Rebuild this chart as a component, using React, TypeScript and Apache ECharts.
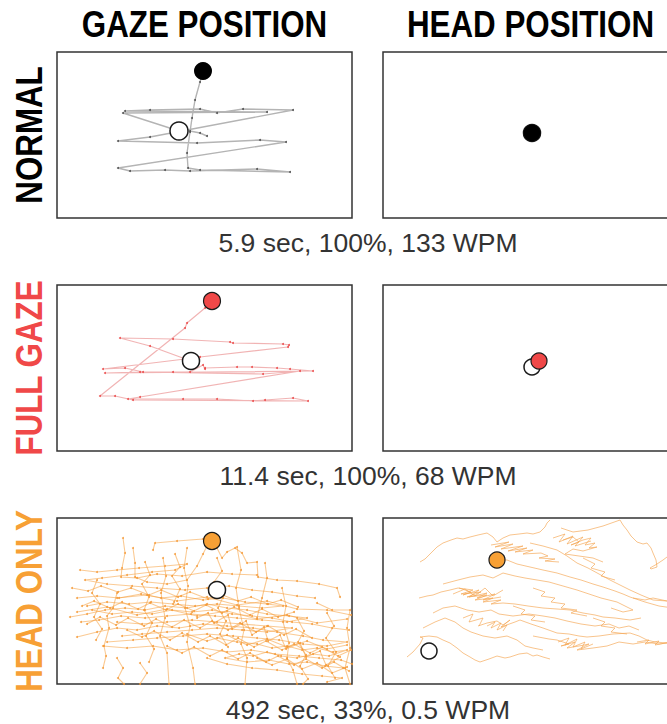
import React, { useEffect, useRef } from "react";
import * as echarts from "echarts";

// ---------- labels ----------
const columnTitles = ["GAZE POSITION", "HEAD POSITION"];
const conditions = ["NORMAL", "FULL GAZE", "HEAD ONLY"];
const conditionColors = ["#000000", "#f04848", "#f7a035"];
const captions = ["5.9 sec, 100%, 133 WPM", "11.4 sec, 100%, 68 WPM", "492 sec, 33%, 0.5 WPM"];

// ---------- screen extent (display units) ----------
const screenW = 295;
const screenH = 166;

// ---------- NORMAL ----------
const normalGazeTrace = [
  [122, 79], [66, 61], [210, 60], [68, 59], [93, 58], [143, 57], [160, 61], [186, 57], [236, 58],
  [130, 78], [93, 85], [61, 89], [140, 91], [203, 88], [229, 90], [61, 116], [73, 119], [108, 118],
  [133, 119], [200, 117], [233, 120], [143, 118], [131, 116], [130, 101], [133, 80], [135, 66],
  [138, 48], [143, 30], [146, 19],
];
const normalGazeTail = [[133, 79], [143, 81], [150, 84]];
const normalGazeStart = [122, 79];
const normalGazeEnd = [146, 19];
const normalHeadStart = [149, 81];
const normalHeadEnd = [149, 81];

// ---------- FULL GAZE ----------
const fullGazeTrace = [
  [134, 76], [93, 61], [63, 53], [116, 54], [173, 57], [176, 58], [226, 59], [232, 60], [231, 62],
  [143, 72], [128, 74], [46, 84], [68, 83], [86, 87], [116, 87], [133, 87], [146, 80], [148, 84],
  [148, 83], [180, 82], [195, 82], [220, 83], [233, 84], [256, 86], [48, 88], [83, 87], [206, 89],
  [243, 86], [83, 112], [71, 114], [126, 114], [160, 114], [196, 116], [208, 115], [236, 113],
  [251, 116], [76, 115], [58, 111], [43, 111], [128, 43], [130, 38], [148, 23], [155, 16],
];
const fullGazeStart = [134, 76];
const fullGazeEnd = [155, 16];
const fullHeadStart = [149, 82];
const fullHeadEnd = [156, 76];

// ---------- HEAD ONLY ----------
const headOnlyGazeTraces = [
  [[66, 20], [68, 35], [65, 50], [64, 59], [80, 60], [100, 56], [125, 58], [150, 54], [175, 56], [200, 57]],
  [[76, 30], [78, 45], [78, 59], [90, 64], [110, 66], [130, 62], [140, 48], [146, 36], [150, 28], [155, 23]],
  [[96, 32], [98, 25], [120, 23], [146, 21], [155, 23], [160, 30], [165, 40], [170, 34], [178, 30], [185, 35],
   [190, 45], [200, 44], [201, 59], [220, 62], [240, 63], [262, 66], [280, 70], [283, 79]],
  [[23, 52], [40, 54], [60, 52], [82, 50], [108, 48], [130, 46], [118, 52], [95, 54], [70, 57], [45, 60],
   [28, 62], [50, 66], [75, 68], [100, 70], [128, 72], [150, 70], [172, 68], [195, 72], [215, 74], [240, 78], [258, 80]],
  [[13, 99], [30, 96], [48, 92], [68, 90], [88, 92], [108, 88], [130, 90], [150, 86], [170, 90], [190, 92],
   [210, 96], [232, 98], [250, 100], [230, 104], [205, 102], [180, 100], [158, 98], [134, 96], [110, 98],
   [88, 100], [64, 98], [42, 102], [24, 104]],
  [[20, 80], [40, 78], [62, 80], [84, 76], [104, 80], [124, 78], [146, 82], [166, 80], [188, 84], [210, 86],
   [226, 88], [205, 90], [182, 88], [160, 86], [138, 88], [116, 86], [94, 84], [72, 86], [50, 84], [30, 88]],
  [[20, 119], [40, 114], [60, 110], [80, 112], [100, 108], [122, 110], [146, 106], [170, 108], [196, 110],
   [220, 114], [246, 118], [266, 122], [290, 124], [270, 128], [246, 126], [222, 122], [200, 120], [176, 118],
   [150, 116], [126, 118], [100, 120], [76, 122], [50, 124]],
  [[46, 128], [70, 130], [96, 128], [120, 132], [146, 130], [170, 134], [194, 132], [218, 136], [242, 138],
   [262, 140], [284, 142], [295, 146]],
  [[160, 120], [180, 124], [200, 126], [215, 130], [230, 128], [245, 132], [260, 130], [276, 134], [290, 132],
   [272, 138], [256, 136], [240, 140], [224, 138], [210, 134], [196, 138], [182, 136], [168, 140], [190, 144],
   [212, 142], [232, 146], [250, 144], [268, 148], [286, 150]],
  [[106, 40], [109, 58], [104, 75], [108, 100], [103, 118], [110, 135], [112, 166]],
  [[130, 30], [127, 50], [131, 68], [128, 90], [133, 108], [130, 124], [136, 150], [138, 166]],
  [[180, 29], [184, 52], [179, 70], [182, 90], [187, 112], [184, 126], [190, 140], [188, 166]],
  [[225, 70], [229, 88], [226, 104], [232, 125], [230, 140], [236, 152], [240, 166]],
  [[46, 150], [49, 138], [47, 128], [52, 110], [50, 98], [56, 90], [60, 75]],
  [[260, 85], [275, 92], [293, 92], [290, 110], [293, 130], [288, 150], [293, 166]],
  [[35, 92], [55, 96], [75, 94], [95, 96], [115, 92], [135, 94], [155, 92], [175, 96], [195, 98], [215, 100],
   [235, 104], [255, 106], [275, 110], [292, 112]],
  [[60, 104], [85, 106], [110, 104], [135, 102], [160, 104], [185, 106], [210, 108], [235, 110], [210, 114],
   [185, 112], [160, 110], [135, 112], [110, 114], [85, 116], [65, 118]],
  [[150, 140], [170, 146], [195, 150], [220, 152], [245, 156], [265, 158], [285, 160], [270, 164]],
  [[83, 145], [90, 155], [83, 166]],
  [[200, 100], [205, 80], [210, 60], [208, 45]],
  [[15, 70], [31, 73], [44, 68], [61, 74], [74, 70], [92, 77], [104, 72], [121, 79], [133, 74], [151, 81],
   [163, 76], [181, 83], [194, 79], [211, 86], [224, 82], [241, 89]],
  [[25, 88], [37, 83], [53, 90], [65, 84], [81, 91], [93, 85], [109, 92], [121, 86], [137, 93], [149, 87],
   [165, 95], [177, 89], [193, 97], [205, 91], [221, 99], [237, 94]],
  [[30, 106], [43, 99], [59, 107], [71, 100], [87, 108], [99, 101], [115, 109], [127, 102], [143, 110],
   [155, 103], [171, 112], [183, 105], [199, 114], [211, 108], [227, 117], [239, 111], [255, 120]],
  [[70, 112], [85, 119], [97, 113], [113, 122], [125, 115], [141, 124], [153, 118], [169, 127], [181, 120],
   [197, 129], [209, 123], [225, 132], [237, 126], [253, 135], [265, 129], [281, 138], [294, 132]],
  [[110, 128], [125, 135], [137, 129], [153, 138], [165, 132], [181, 141], [193, 135], [209, 144], [221, 138],
   [237, 147], [249, 141], [265, 150], [277, 144], [292, 153]],
  [[140, 100], [151, 95], [157, 105], [171, 97], [175, 111], [189, 103], [195, 117], [207, 109], [211, 123],
   [223, 117], [229, 131], [243, 125], [249, 139], [263, 133], [269, 147], [283, 139]],
  [[88, 44], [93, 57], [85, 66], [92, 79], [87, 92], [95, 105], [89, 118], [97, 131], [92, 144]],
  [[160, 40], [165, 53], [157, 64], [167, 77], [161, 90], [169, 103], [163, 116], [171, 129]],
  [[40, 62], [35, 75], [43, 86], [37, 99], [45, 111], [39, 122]],
  [[240, 100], [247, 113], [241, 124], [249, 137], [243, 148], [251, 161], [246, 166]],
  [[118, 36], [123, 49], [115, 58], [123, 71], [117, 84]],
  [[20, 94], [50, 89], [80, 97], [110, 91], [140, 98], [170, 93], [200, 101], [230, 97], [260, 105], [290, 101]],
  [[60, 80], [90, 77], [120, 83], [150, 79], [180, 87], [210, 83], [240, 91], [270, 92], [294, 97]],
  [[130, 116], [150, 123], [170, 117], [190, 127], [210, 121], [230, 129], [250, 123], [270, 131], [290, 127]],
  [[200, 140], [215, 147], [230, 141], [245, 151], [260, 145], [275, 155], [290, 149]],
  [[60, 140], [66, 150], [61, 160], [67, 166]],
  [[270, 95], [277, 108], [269, 120], [279, 134], [271, 148], [278, 160]],
];
const headOnlyGazeStart = [160, 72];
const headOnlyGazeEnd = [155, 23];

const headOnlyHeadTraces = [
  [[37, 44], [42, 41], [50, 33], [54, 29], [60, 25], [68, 22], [74, 20], [80, 21], [87, 19], [95, 17], [104, 15],
   [110, 19], [114, 24], [120, 20], [127, 17], [136, 16], [144, 15], [150, 16], [157, 14], [162, 9], [164, 5], [167, 2]],
  [[178, 10], [190, 14], [205, 12], [220, 8], [237, 2], [240, 7], [244, 12], [248, 18], [254, 24], [260, 26],
   [264, 25], [268, 30], [270, 35], [273, 42], [274, 49], [268, 51], [267, 50], [274, 46], [280, 42], [284, 39], [290, 36]],
  [[147, 25], [160, 28], [174, 32], [184, 38], [194, 45], [205, 50], [216, 56], [227, 62], [237, 67], [247, 72],
   [258, 77], [270, 82], [284, 83], [295, 84]],
  [[108, 27], [126, 24], [112, 29], [130, 26], [118, 31], [140, 28], [125, 33], [144, 30], [132, 34], [150, 32],
   [140, 36], [158, 35], [165, 38], [156, 40], [172, 41], [162, 43], [176, 44]],
  [[180, 22], [190, 19], [196, 24], [188, 27], [200, 22], [208, 20], [202, 27], [212, 25], [206, 30], [214, 29],
   [200, 33], [190, 31], [182, 36], [196, 38], [210, 40], [220, 44]],
  [[36, 80], [44, 78], [50, 77], [58, 74], [67, 72], [75, 70], [90, 72], [78, 76], [98, 74], [84, 79], [104, 77],
   [92, 82], [110, 80], [100, 84], [118, 82], [108, 86], [120, 85], [132, 86], [145, 88], [160, 90], [174, 91],
   [187, 92], [200, 95], [212, 97], [220, 99], [232, 100], [247, 102], [258, 100]],
  [[114, 42], [124, 42], [134, 46], [147, 49], [160, 52], [174, 55], [187, 59], [198, 62], [210, 66], [220, 69],
   [232, 73], [240, 76], [247, 79], [262, 84], [276, 88], [290, 90]],
  [[60, 66], [75, 62], [87, 59], [100, 57], [110, 60], [120, 55], [132, 58], [142, 60], [154, 62], [166, 64],
   [180, 68], [194, 72], [206, 76], [218, 80], [226, 82], [234, 84], [242, 88], [250, 92], [240, 94], [228, 90]],
  [[95, 108], [104, 105], [114, 103], [120, 107], [127, 102], [118, 109], [132, 104], [137, 102], [148, 106],
   [160, 110], [174, 115], [186, 116], [196, 118], [204, 119], [216, 118], [230, 116], [247, 115], [256, 118],
   [264, 122], [272, 124], [284, 125], [295, 126]],
  [[150, 118], [166, 121], [174, 122], [186, 126], [178, 128], [192, 124], [184, 130], [196, 128], [206, 126],
   [194, 132], [210, 130], [224, 128], [236, 124], [250, 126], [262, 124], [276, 126], [290, 124]],
  [[24, 139], [30, 134], [37, 126], [40, 120], [37, 119], [46, 118], [54, 119], [60, 122], [67, 125], [74, 130],
   [80, 135], [87, 139], [92, 142], [97, 144], [106, 141], [114, 138], [122, 140], [127, 139], [136, 136],
   [144, 135], [150, 138], [154, 137], [160, 139], [167, 141]],
  [[50, 95], [60, 90], [72, 88], [84, 92], [96, 94], [108, 92], [116, 96], [130, 98], [146, 96], [160, 98],
   [172, 100], [184, 103], [198, 106], [212, 108], [226, 106], [236, 110], [246, 108], [256, 112]],
  [[40, 110], [52, 104], [62, 100], [72, 104], [80, 110], [88, 114], [100, 118], [112, 120], [124, 118],
   [134, 122], [142, 128], [150, 130], [160, 132]],
  [[250, 80], [262, 82], [270, 80], [284, 83], [295, 86]],
  [[76, 70], [88, 74], [80, 77], [96, 72], [86, 79], [104, 75], [94, 80], [112, 76], [100, 82], [118, 79]],
  [[70, 76], [82, 71], [92, 78], [102, 70], [110, 78], [120, 72]],
  [[170, 20], [182, 16], [176, 24], [190, 18], [184, 26], [200, 19], [192, 28], [208, 23]],
  [[104, 108], [112, 104], [108, 110], [118, 105], [114, 112], [124, 107], [120, 113]],
  [[175, 124], [186, 120], [182, 127], [194, 121], [190, 129], [202, 124], [198, 131], [210, 126]],
  [[254, 124], [266, 122], [262, 126], [276, 123], [272, 127], [288, 124], [295, 125]],
  [[150, 70], [162, 74], [158, 78], [172, 80], [168, 84], [182, 86], [178, 90], [194, 92], [188, 95], [204, 98]],
  [[210, 100], [222, 104], [218, 108], [232, 110], [228, 114], [244, 116]],
  [[130, 88], [142, 92], [138, 96], [152, 98], [148, 102], [162, 104]],
  [[200, 40], [212, 46], [208, 50], [222, 54], [218, 58], [232, 62]],
  [[80, 100], [90, 96], [86, 104], [100, 100], [96, 108]],
];
const headOnlyHeadStart = [46, 133];
const headOnlyHeadEnd = [114, 42];

// ---------- layout ----------
const colLeft = [57, 383];
const rowTop = [52, 285, 518];
const panelW = 295;
const panelH = 166;
const captionY = [243, 476, 710];
const FONT = '"Liberation Sans", Arial, Helvetica, sans-serif';

type Pt = number[];

function buildOption() {
  const grids: any[] = [];
  const xAxes: any[] = [];
  const yAxes: any[] = [];
  for (let r = 0; r < 3; r++) {
    for (let c = 0; c < 2; c++) {
      const i = r * 2 + c;
      grids.push({
        left: colLeft[c], top: rowTop[r], width: panelW, height: panelH,
        show: true, borderColor: "#333", borderWidth: 1.5, backgroundColor: "#fff",
      });
      xAxes.push({ gridIndex: i, type: "value", min: 0, max: screenW, show: false });
      yAxes.push({ gridIndex: i, type: "value", min: 0, max: screenH, inverse: true, show: false });
    }
  }

  const series: any[] = [];
  const addTraces = (idx: number, traces: Pt[][], color: string, width: number, dot: number, dotColor: string) => {
    traces.forEach((t) => {
      series.push({
        type: "line", xAxisIndex: idx, yAxisIndex: idx, data: t,
        symbol: "circle", symbolSize: dot, showSymbol: dot > 0,
        lineStyle: { color, width }, itemStyle: { color: dotColor, opacity: 1 },
        silent: true, z: 2,
      });
    });
  };
  const addMarkers = (idx: number, start: Pt, end: Pt, color: string, size: number) => {
    series.push({
      type: "scatter", xAxisIndex: idx, yAxisIndex: idx, data: [start], symbolSize: size,
      itemStyle: { color: "#ffffff", borderColor: "#1a1a1a", borderWidth: 1.5, opacity: 1 }, silent: true, z: 5,
    });
    series.push({
      type: "scatter", xAxisIndex: idx, yAxisIndex: idx, data: [end], symbolSize: size,
      itemStyle: { color, borderColor: "#1a1a1a", borderWidth: color === "#000000" ? 0 : 1.2, opacity: 1 },
      silent: true, z: 6,
    });
  };

  // NORMAL
  addTraces(0, [normalGazeTrace, normalGazeTail], "#b4b4b4", 1.4, 2, "#555");
  addMarkers(0, normalGazeStart, normalGazeEnd, conditionColors[0], 18);
  addMarkers(1, normalHeadStart, normalHeadEnd, conditionColors[0], 17);
  // FULL GAZE
  addTraces(2, [fullGazeTrace], "rgba(232,130,130,0.6)", 1.2, 2, "rgba(235,70,70,0.9)");
  addMarkers(2, fullGazeStart, fullGazeEnd, conditionColors[1], 17);
  addMarkers(3, fullHeadStart, fullHeadEnd, conditionColors[1], 16);
  // HEAD ONLY
  addTraces(4, headOnlyGazeTraces, "rgba(245,158,60,0.55)", 1.1, 2, "rgba(245,150,50,0.85)");
  addMarkers(4, headOnlyGazeStart, headOnlyGazeEnd, conditionColors[2], 17);
  addTraces(5, headOnlyHeadTraces, "rgba(244,165,80,0.65)", 1, 0, "rgba(245,150,50,0.8)");
  addMarkers(5, headOnlyHeadStart, headOnlyHeadEnd, conditionColors[2], 16);

  const graphic: any[] = [];
  columnTitles.forEach((t, c) => {
    graphic.push({
      type: "text", x: colLeft[c] + panelW / 2, y: 24, scaleX: 0.87, silent: true,
      style: { text: t, fill: "#000", fontSize: 36, fontWeight: "bold", fontFamily: FONT,
        textAlign: "center", textVerticalAlign: "middle", align: "center", verticalAlign: "middle" },
    });
  });
  conditions.forEach((t, r) => {
    graphic.push({
      type: "text", x: 29, y: rowTop[r] + panelH / 2, rotation: Math.PI / 2, scaleX: 0.87, silent: true,
      style: { text: t, fill: conditionColors[r], fontSize: 36, fontWeight: "bold", fontFamily: FONT,
        textAlign: "center", textVerticalAlign: "middle", align: "center", verticalAlign: "middle" },
    });
  });
  captions.forEach((t, r) => {
    graphic.push({
      type: "text", x: 368, y: captionY[r], silent: true,
      style: { text: t, fill: "#333", fontSize: 26.5, fontFamily: FONT,
        textAlign: "center", textVerticalAlign: "middle", align: "center", verticalAlign: "middle" },
    });
  });

  return {
    animation: false,
    backgroundColor: "#ffffff",
    grid: grids,
    xAxis: xAxes,
    yAxis: yAxes,
    series,
    graphic,
  };
}

export default function App() {
  const ref = useRef<HTMLDivElement>(null);
  useEffect(() => {
    if (!ref.current) return;
    const chart = echarts.init(ref.current, undefined, { renderer: "svg" });
    chart.setOption(buildOption());
    return () => chart.dispose();
  }, []);
  // The figure is wider than the window: the right column is cut off at the window edge, as in the source.
  return (
    <div
      ref={ref}
      style={{ position: "fixed", left: 0, top: 0, width: 700, height: 724, background: "#fff" }}
    />
  );
}
